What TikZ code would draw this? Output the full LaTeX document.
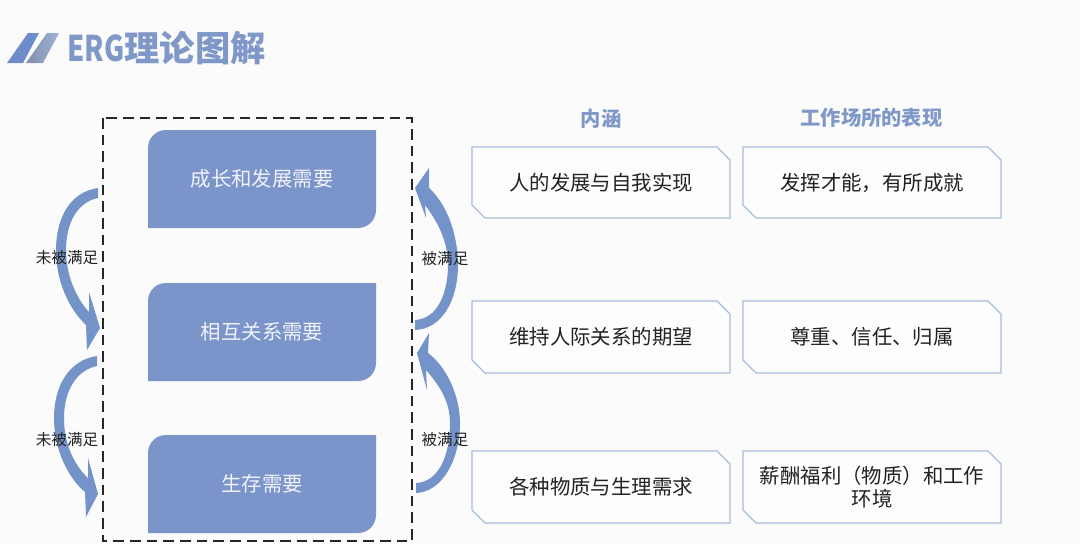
\documentclass[tikz,border=0pt]{standalone}
\usepackage{fontspec}
\setmainfont{Noto Sans CJK SC}
\definecolor{bluefill}{HTML}{7B95CB}
\definecolor{arrowblue}{HTML}{7493C9}
\definecolor{titleblue}{HTML}{7F98C8}
\definecolor{edgeblue}{HTML}{A9BCDC}
\definecolor{pagebg}{HTML}{FBFBFB}
\definecolor{inktext}{HTML}{222222}
\tikzset{
  x=0.75pt,y=-0.75pt,
  bigtext/.style={text=white!88!bluefill,font=\fontsize{15.3}{18}\selectfont},
  boxtext/.style={text=inktext,font=\fontsize{15.3}{17.4}\selectfont,align=center},
  boxedge/.style={draw=edgeblue,line width=1pt,fill=white!50!pagebg},
  headtext/.style={text=titleblue,font=\fontsize{15.2}{18}\selectfont\bfseries},
  edgetext/.style={text=inktext,font=\fontsize{11.7}{14}\selectfont},
  bendarrow/.style={fill=arrowblue,draw=none},
}
% round2diag box
\newcommand{\needbox}[6]{%
  \fill[bluefill] (#1+18,#2) -- (#3,#2) -- (#3,#4-18)
     .. controls (#3,#4-8) and (#3-8,#4) .. (#3-18,#4)
     -- (#1,#4) -- (#1,#2+18)
     .. controls (#1,#2+8) and (#1+8,#2) .. (#1+18,#2) -- cycle;
  \node[bigtext] (#5) at ({(#1+#3)/2},{(#2+#4)/2-0.5}) {#6};}
% snip2diag box
\newcommand{\snipbox}[6]{%
  \path[boxedge] (#1,#2) -- (#3-13,#2) -- (#3,#2+13) -- (#3,#4) -- (#1+13,#4) -- (#1,#4-13) -- cycle;
  \node[boxtext] (#5) at ({(#1+#3)/2},{(#2+#4)/2}) {#6};}
\begin{document}
\begin{tikzpicture}
\useasboundingbox (0,0) rectangle (1080,543);
\fill[pagebg] (0,0) rectangle (1080,543);
% logo
\fill[arrowblue!95!blue] (7,63) -- (23,63) -- (39,33) -- (28,33) -- cycle;
\shade[left color=black!35!arrowblue!70!white,right color=arrowblue!70!white] (26,63) -- (43,63) -- (59,33) -- (47,33) -- cycle;
\node[anchor=west,inner sep=0pt,text=titleblue,font=\fontsize{26.5}{30}\selectfont\bfseries] (title) at (67,48) {\scalebox{0.78}[1]{ERG}理论图解};
% dashed frame
\draw[black!85,line width=1.5pt,dash pattern=on 8pt off 4.5pt] (103,118) rectangle (412,541);
% need boxes
\needbox{148}{130}{376}{228}{grow}{成长和发展需要}
\needbox{148}{283}{376}{381}{rel}{相互关系需要}
\needbox{148}{435}{376}{533}{live}{生存需要}
% headers
\node[headtext] (h1) at (601,119) {内涵};
\node[headtext] (h2) at (871.5,118) {工作场所的表现};
% description boxes
\snipbox{472}{147}{730}{218}{a1}{人的发展与自我实现}
\snipbox{743}{147}{1001}{218}{b1}{发挥才能，有所成就}
\snipbox{472}{301}{730}{373}{a2}{维持人际关系的期望}
\snipbox{743}{301}{1001}{373}{b2}{尊重、信任、归属}
\snipbox{472}{451}{730}{523}{a3}{各种物质与生理需求}
\snipbox{743}{451}{1001}{523}{b3}{薪酬福利（物质）和工作\\环境}
% left arrows
\fill[bendarrow] (98,188) .. controls (70,192) and (56,218) .. (56,250)
   .. controls (56,280) and (68,308) .. (86,325) -- (87,350) -- (100,328) -- (89,292) -- (89,312)
   .. controls (76,298) and (66,275) .. (66,250)
   .. controls (66,222) and (78,202) .. (98,198) -- cycle;
\fill[bendarrow] (97,356) .. controls (69,360) and (54,386) .. (54,418)
   .. controls (54,448) and (67,477) .. (85,492) -- (86,517) -- (98,494) -- (88,458) -- (88,478)
   .. controls (75,466) and (64,445) .. (64,418)
   .. controls (64,390) and (77,370) .. (97,366) -- cycle;
% right arrows
\fill[bendarrow] (415,320) .. controls (438,319) and (448,292) .. (448,265)
   .. controls (448,242) and (438,222) .. (425,205) -- (426,218) -- (415,188) -- (429,168) -- (429,188)
   .. controls (447,204) and (458,235) .. (458,265)
   .. controls (458,300) and (442,329) .. (415,330) -- cycle;
\fill[bendarrow] (416,483) .. controls (439,482) and (450,455) .. (450,423)
   .. controls (450,400) and (438,384) .. (426,370) -- (427,390) -- (417,353) -- (429,333) -- (428,353)
   .. controls (448,368) and (460,398) .. (460,423)
   .. controls (460,460) and (442,492) .. (416,493) -- cycle;
% arrow labels
\node[edgetext] (l1) at (67,258) {未被满足};
\node[edgetext] (l2) at (67,440) {未被满足};
\node[edgetext] (r1) at (445,259) {被满足};
\node[edgetext] (r2) at (445,440) {被满足};
\end{tikzpicture}
\end{document}
